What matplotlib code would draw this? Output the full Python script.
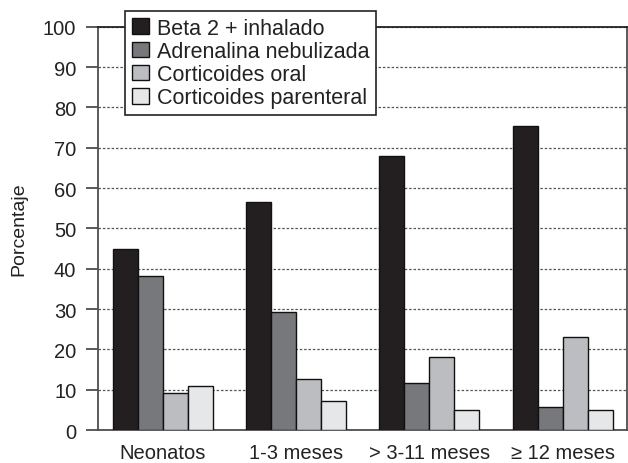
import numpy as np
import matplotlib
matplotlib.use('Agg')
import matplotlib.pyplot as plt

plt.rcParams['font.family'] = ['Liberation Sans', 'DejaVu Sans']

# data
categories = ['Neonatos', '1-3 meses', '> 3-11 meses', '\u2265 12 meses']
series_names = ['Beta 2 + inhalado', 'Adrenalina nebulizada',
                'Corticoides oral', 'Corticoides parenteral']
beta2 = [45.0, 56.5, 68.0, 75.4]
adrenalina = [38.3, 29.2, 11.6, 5.6]
cort_oral = [9.2, 12.7, 18.2, 23.2]
cort_parenteral = [11.0, 7.2, 5.0, 5.0]
series_values = [beta2, adrenalina, cort_oral, cort_parenteral]
colors = ['#231f20', '#77787b', '#bcbdc0', '#e6e7e8']

fig = plt.figure(figsize=(6.28, 4.64), dpi=100)
ax = fig.add_axes([0.156, 0.071, 0.842, 0.869])

x = np.arange(len(categories))
width = 0.1875
for i, (name, vals) in enumerate(zip(series_names, series_values)):
    ax.bar(x + (i - 1.5) * width, vals, width, color=colors[i],
           edgecolor='#111111', linewidth=1.0, label=name, zorder=3)

ax.set_xlim(-0.485, 3.48)
ax.set_ylim(0, 100)
ax.set_yticks(np.arange(0, 101, 10))
ax.set_xticks(x)
ax.set_xticklabels(categories)

ax.yaxis.grid(True, linestyle=(0, (2, 1.5)), color='#555555', linewidth=0.9, zorder=0)
ax.set_axisbelow(True)

for s in ['left', 'right', 'bottom']:
    ax.spines[s].set_color('#4d4d4d')
    ax.spines[s].set_linewidth(1.3)
ax.spines['top'].set_color('#222222')
ax.spines['top'].set_linewidth(1.3)

ax.tick_params(axis='y', direction='out', length=8.6, width=1.3, color='#4d4d4d',
               pad=7, labelsize=14.5, labelcolor='#222222')
ax.tick_params(axis='x', length=0, pad=9, labelsize=14.5, labelcolor='#222222')
ax.set_ylabel('Porcentaje', fontsize=14, color='#222222', labelpad=11)

leg = ax.legend(loc='upper left', bbox_to_anchor=(0.051, 1.04), borderaxespad=0,
                fontsize=15.5, frameon=True, fancybox=False, framealpha=1,
                edgecolor='#222222', handlelength=0.8, handleheight=0.75,
                handletextpad=0.35, labelspacing=0.1, borderpad=0.33)
leg.get_frame().set_linewidth(1.2)
leg.set_zorder(5)
for t in leg.get_texts():
    t.set_color('#222222')

fig.savefig('out.png', dpi=100)
